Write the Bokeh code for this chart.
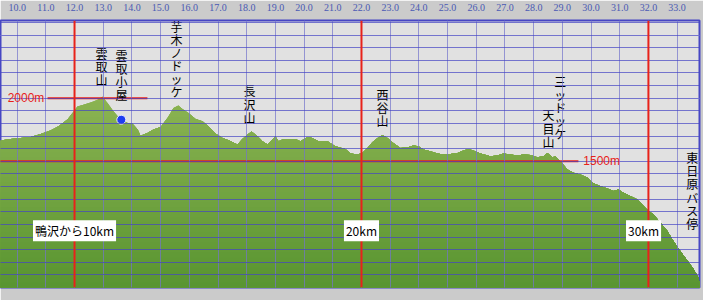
import numpy as np
from bokeh.plotting import figure
from bokeh.models import FixedTicker, Grid, Span, Label, Range1d, NumeralTickFormatter
from bokeh.core.properties import value
from bokeh.embed import file_html
from bokeh.resources import INLINE

# ---- data: distance along the route (km) and elevation (m) ----
dist_km = [9.42, 9.77, 10.12, 10.47, 10.82, 11.16, 11.44, 11.76, 11.93, 12.10, 12.31, 12.56,
           12.80, 12.98, 13.15, 13.36, 13.60, 13.85, 14.02, 14.20, 14.30, 14.54, 14.75, 15.00,
           15.24, 15.45, 15.62, 15.76, 15.97, 16.22, 16.46, 16.67, 16.91, 17.16, 17.37, 17.68,
           17.85, 18.03, 18.17, 18.38, 18.55, 18.73, 18.90, 19.00, 19.11, 19.28, 19.46, 19.70,
           19.87, 20.12, 20.29, 20.50, 20.82, 21.09, 21.44, 21.62, 21.86, 22.03, 22.21, 22.38,
           22.56, 22.73, 22.91, 23.11, 23.36, 23.64, 23.81, 23.99, 24.16, 24.40, 24.65, 24.86,
           25.10, 25.35, 25.55, 25.73, 25.90, 26.15, 26.49, 26.74, 26.95, 27.19, 27.44, 27.64,
           27.89, 28.13, 28.34, 28.48, 28.66, 28.76, 28.93, 29.18, 29.39, 29.63, 29.88, 30.05,
           30.33, 30.57, 30.78, 30.95, 31.13, 31.37, 31.62, 31.83, 32.00, 32.17, 32.42, 32.66,
           32.87, 33.11, 33.36, 33.57, 33.74, 33.78]
elev_m = [1664, 1676, 1684, 1692, 1716, 1743, 1777, 1832, 1882, 1934, 1948, 1966,
          1987, 2012, 1961, 1895, 1830, 1803, 1798, 1751, 1703, 1724, 1751, 1771,
          1842, 1921, 1942, 1913, 1882, 1834, 1816, 1777, 1719, 1684, 1666, 1632,
          1676, 1711, 1735, 1698, 1658, 1632, 1672, 1698, 1658, 1676, 1672, 1676,
          1658, 1692, 1684, 1658, 1658, 1619, 1597, 1561, 1553, 1566, 1605, 1650,
          1684, 1708, 1684, 1645, 1605, 1613, 1624, 1619, 1593, 1579, 1561, 1553,
          1558, 1566, 1585, 1597, 1585, 1561, 1540, 1545, 1561, 1553, 1545, 1553,
          1550, 1532, 1540, 1566, 1532, 1540, 1500, 1435, 1408, 1395, 1369, 1329,
          1303, 1285, 1264, 1277, 1250, 1224, 1198, 1145, 1106, 1080, 1013, 948,
          869, 790, 711, 646, 579, 540]

x_ticks = [float(v) for v in range(10, 34)]
y_grid = list(range(500, 2700, 100))
red_km = [12, 22, 32]
km_marks = ["鴨沢から10km", "20km", "30km"]

place_names = ["雲取山", "雲取小屋", "芋木ノドッケ", "長沢山", "西谷山", "三ッドッケ", "天目山", "東日原バス停"]
hut_km = [13.63]
hut_elev = [1829]

# ---- figure ----
p = figure(width=703, height=300, output_backend="svg", toolbar_location=None,
           x_range=Range1d(9.42, 33.78), y_range=Range1d(500, 2615),
           x_axis_location="above", y_axis_location=None,
           min_border_left=0, min_border_right=4, min_border_top=19, min_border_bottom=13)
p.background_fill_color = "#e1e1e1"
p.border_fill_color = "#cbcbcb"
p.outline_line_color = "#4646c4"
p.outline_line_width = 2

ax = p.xaxis[0]
ax.ticker = FixedTicker(ticks=x_ticks)
ax.formatter = NumeralTickFormatter(format="0.0")
ax.axis_line_color = None
ax.major_tick_line_color = None
ax.minor_tick_line_color = None
ax.major_label_standoff = 4
ax.major_label_text_font = "Liberation Serif"
ax.major_label_text_font_size = "10px"
ax.major_label_text_color = "#4a5ab4"

# ---- gradient-filled profile ----
prof = np.array(elev_m, dtype=float)
top_c = np.array([140, 180, 82])
bot_c = np.array([88, 148, 48])
levels = np.linspace(2050, 500, 40)
for i, lv in enumerate(levels):
    t = (lv - 500) / (2050 - 500)
    c = bot_c + (top_c - bot_c) * t
    col = "#%02x%02x%02x" % tuple(int(round(v)) for v in c)
    p.varea(x=dist_km, y1=500, y2=np.minimum(prof, lv), fill_color=col)

# ---- grids on top of the fill ----
p.xgrid.grid_line_color = "#7474cc"
p.xgrid.grid_line_alpha = 0.7
p.xgrid.grid_line_width = 1
p.xgrid.level = "overlay"
p.xgrid.ticker = FixedTicker(ticks=x_ticks)
yg = Grid(dimension=1, ticker=FixedTicker(ticks=y_grid), grid_line_color="#4444c4",
          grid_line_alpha=0.7, grid_line_width=1, level="overlay")
p.add_layout(yg)

# ---- red reference lines ----
red = "#e8221a"
for k in red_km:
    p.add_layout(Span(location=k, dimension="height", line_color=red, line_width=2, level="overlay"))
s1 = p.segment(x0=[11.06], x1=[14.54], y0=[2000], y1=[2000], line_color=red, line_width=2)
s2 = p.segment(x0=[9.42], x1=[29.56], y0=[1500], y1=[1500], line_color=red, line_width=2)
s1.level = "overlay"
s2.level = "overlay"
p.add_layout(Label(x=9.67, y=2000, text="2000m", text_color=red, text_baseline="middle",
                   text_font="Liberation Sans", text_font_size="12px", level="overlay"))
p.add_layout(Label(x=29.73, y=1500, text="1500m", text_color=red, text_baseline="middle",
                   text_font="Liberation Sans", text_font_size="12px", level="overlay"))

# ---- km marks in white boxes ----
mark_x = [12.0, 22.0, 31.83]
for mx, mt in zip(mark_x, km_marks):
    p.add_layout(Label(x=mx, y=949, text=mt, text_align="center", text_baseline="middle",
                       text_font="Noto Sans CJK JP", text_font_size="12px",
                       text_color="black", background_fill_color="white", padding=2,
                       level="overlay"))

# ---- vertical place names ----
name_x = [12.94, 13.64, 15.55, 18.10, 22.73, 28.93, 28.52, 33.53]
name_y = [2424, 2408, 2637, 2124, 2100, 2203, 1934, 1595]
tr = p.text(x=name_x, y=name_y, text=["\n".join(n) for n in place_names],
            text_align="center", text_baseline="top", text_color="#000000",
            text_font=value("Noto Sans CJK JP"), text_font_size="12px",
            text_line_height=0.77)
tr.level = "overlay"

# ---- hut marker ----
dot = p.scatter(x=hut_km, y=hut_elev, size=9, fill_color="#1e3cf0", line_color="#e8e8ff", line_width=1)
dot.level = "overlay"

open("out.html", "w").write(file_html(p, INLINE))
